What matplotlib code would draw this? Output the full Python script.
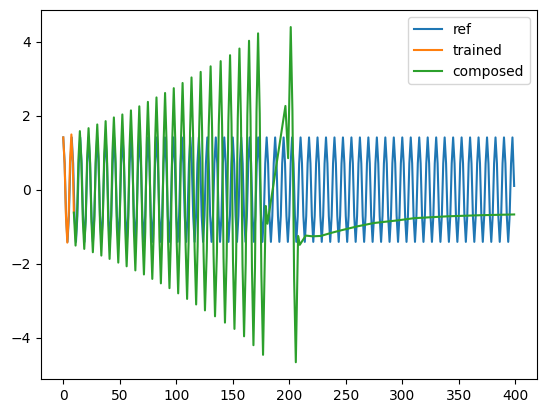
import matplotlib
matplotlib.use("Agg")
import matplotlib.pyplot as plt

# ---- data (points along each curve) ----
ref_x = [0, 1.25, 2.5, 3.75, 5, 6.25, 7.5, 8.75, 10, 11.25, 12.5, 13.75, 15, 16.25, 17.5, 18.75,
         20, 21.25, 22.5, 23.75, 25, 26.25, 27.5, 28.75, 30, 31.25, 32.5, 33.75, 35, 36.25, 37.5, 38.75,
         40, 41.25, 42.5, 43.75, 45, 46.25, 47.5, 48.75, 50, 51.25, 52.5, 53.75, 55, 56.25, 57.5, 58.75,
         60, 61.25, 62.5, 63.75, 65, 66.25, 67.5, 68.75, 70, 71.25, 72.5, 73.75, 75, 76.25, 77.5, 78.75,
         80, 81.25, 82.5, 83.75, 85, 86.25, 87.5, 88.75, 90, 91.25, 92.5, 93.75, 95, 96.25, 97.5, 98.75,
         100, 101.25, 102.5, 103.75, 105, 106.25, 107.5, 108.75, 110, 111.25, 112.5, 113.75, 115, 116.25, 117.5, 118.75,
         120, 121.25, 122.5, 123.75, 125, 126.25, 127.5, 128.75, 130, 131.25, 132.5, 133.75, 135, 136.25, 137.5, 138.75,
         140, 141.25, 142.5, 143.75, 145, 146.25, 147.5, 148.75, 150, 151.25, 152.5, 153.75, 155, 156.25, 157.5, 158.75,
         160, 161.25, 162.5, 163.75, 165, 166.25, 167.5, 168.75, 170, 171.25, 172.5, 173.75, 175, 176.25, 177.5, 178.75,
         180, 181.25, 182.5, 183.75, 185, 186.25, 187.5, 188.75, 190, 191.25, 192.5, 193.75, 195, 196.25, 197.5, 198.75,
         200, 201.25, 202.5, 203.75, 205, 206.25, 207.5, 208.75, 210, 211.25, 212.5, 213.75, 215, 216.25, 217.5, 218.75,
         220, 221.25, 222.5, 223.75, 225, 226.25, 227.5, 228.75, 230, 231.25, 232.5, 233.75, 235, 236.25, 237.5, 238.75,
         240, 241.25, 242.5, 243.75, 245, 246.25, 247.5, 248.75, 250, 251.25, 252.5, 253.75, 255, 256.25, 257.5, 258.75,
         260, 261.25, 262.5, 263.75, 265, 266.25, 267.5, 268.75, 270, 271.25, 272.5, 273.75, 275, 276.25, 277.5, 278.75,
         280, 281.25, 282.5, 283.75, 285, 286.25, 287.5, 288.75, 290, 291.25, 292.5, 293.75, 295, 296.25, 297.5, 298.75,
         300, 301.25, 302.5, 303.75, 305, 306.25, 307.5, 308.75, 310, 311.25, 312.5, 313.75, 315, 316.25, 317.5, 318.75,
         320, 321.25, 322.5, 323.75, 325, 326.25, 327.5, 328.75, 330, 331.25, 332.5, 333.75, 335, 336.25, 337.5, 338.75,
         340, 341.25, 342.5, 343.75, 345, 346.25, 347.5, 348.75, 350, 351.25, 352.5, 353.75, 355, 356.25, 357.5, 358.75,
         360, 361.25, 362.5, 363.75, 365, 366.25, 367.5, 368.75, 370, 371.25, 372.5, 373.75, 375, 376.25, 377.5, 378.75,
         380, 381.25, 382.5, 383.75, 385, 386.25, 387.5, 388.75, 390, 391.25, 392.5, 393.75, 395, 396.25, 397.5,
         399]
ref_y = [1.41, 0.71, -0.71, -1.41, -0.71, 0.71,
         1.41, 0.71, -0.71, -1.41, -0.71, 0.71,
         1.41, 0.71, -0.71, -1.41, -0.71, 0.71,
         1.41, 0.71, -0.71, -1.41, -0.71, 0.71,
         1.41, 0.71, -0.71, -1.41, -0.71, 0.71,
         1.41, 0.71, -0.71, -1.41, -0.71, 0.71,
         1.41, 0.71, -0.71, -1.41, -0.71, 0.71,
         1.41, 0.71, -0.71, -1.41, -0.71, 0.71,
         1.41, 0.71, -0.71, -1.41, -0.71, 0.71,
         1.41, 0.71, -0.71, -1.41, -0.71, 0.71,
         1.41, 0.71, -0.71, -1.41, -0.71, 0.71,
         1.41, 0.71, -0.71, -1.41, -0.71, 0.71,
         1.41, 0.71, -0.71, -1.41, -0.71, 0.71,
         1.41, 0.71, -0.71, -1.41, -0.71, 0.71,
         1.41, 0.71, -0.71, -1.41, -0.71, 0.71,
         1.41, 0.71, -0.71, -1.41, -0.71, 0.71,
         1.41, 0.71, -0.71, -1.41, -0.71, 0.71,
         1.41, 0.71, -0.71, -1.41, -0.71, 0.71,
         1.41, 0.71, -0.71, -1.41, -0.71, 0.71,
         1.41, 0.71, -0.71, -1.41, -0.71, 0.71,
         1.41, 0.71, -0.71, -1.41, -0.71, 0.71,
         1.41, 0.71, -0.71, -1.41, -0.71, 0.71,
         1.41, 0.71, -0.71, -1.41, -0.71, 0.71,
         1.41, 0.71, -0.71, -1.41, -0.71, 0.71,
         1.41, 0.71, -0.71, -1.41, -0.71, 0.71,
         1.41, 0.71, -0.71, -1.41, -0.71, 0.71,
         1.41, 0.71, -0.71, -1.41, -0.71, 0.71,
         1.41, 0.71, -0.71, -1.41, -0.71, 0.71,
         1.41, 0.71, -0.71, -1.41, -0.71, 0.71,
         1.41, 0.71, -0.71, -1.41, -0.71, 0.71,
         1.41, 0.71, -0.71, -1.41, -0.71, 0.71,
         1.41, 0.71, -0.71, -1.41, -0.71, 0.71,
         1.41, 0.71, -0.71, -1.41, -0.71, 0.71,
         1.41, 0.71, -0.71, -1.41, -0.71, 0.71,
         1.41, 0.71, -0.71, -1.41, -0.71, 0.71,
         1.41, 0.71, -0.71, -1.41, -0.71, 0.71,
         1.41, 0.71, -0.71, -1.41, -0.71, 0.71,
         1.41, 0.71, -0.71, -1.41, -0.71, 0.71,
         1.41, 0.71, -0.71, -1.41, -0.71, 0.71,
         1.41, 0.71, -0.71, -1.41, -0.71, 0.71,
         1.41, 0.71, -0.71, -1.41, -0.71, 0.71,
         1.41, 0.71, -0.71, -1.41, -0.71, 0.71,
         1.41, 0.71, -0.71, -1.41, -0.71, 0.71,
         1.41, 0.71, -0.71, -1.41, -0.71, 0.71,
         1.41, 0.71, -0.71, -1.41, -0.71, 0.71,
         1.41, 0.71, -0.71, -1.41, -0.71, 0.71,
         1.41, 0.71, -0.71, -1.41, -0.71, 0.71,
         1.41, 0.71, -0.71, -1.41, -0.71, 0.71,
         1.41, 0.71, -0.71, -1.41, -0.71, 0.71,
         1.41, 0.71, -0.71, -1.41, -0.71, 0.71,
         1.41, 0.71, -0.71, -1.41, -0.71, 0.71,
         1.41, 0.71, -0.71, -1.41, -0.71, 0.71,
         1.41, 0.71, -0.71, -1.41, -0.71, 0.71,
         1.41,
         0.10]

trained_x = [0, 1.2, 2.4, 3.6, 4.8, 6.0, 7.2, 8.4, 9.4]
trained_y = [1.41, 0.70, -0.72, -1.43, -0.70, 0.76, 1.49, 0.74, -0.62]

composed_x = [9.4, 10.9, 12.17, 13.43, 14.7, 16.0, 17.3, 18.6, 19.87, 21.13,
              22.4, 23.67, 24.93, 26.2, 27.5, 28.8, 30.1, 31.3, 32.5, 33.7,
              34.97, 36.23, 37.5, 38.67, 39.83, 41.0, 42.27, 43.53, 44.8, 46.1,
              47.4, 48.7, 49.9, 51.1, 52.3, 53.57, 54.83, 56.1, 57.37, 58.63,
              59.9, 61.2, 62.5, 63.8, 64.97, 66.13, 67.3, 68.67, 70.03, 71.4,
              72.57, 73.73, 74.9, 76.2, 77.5, 78.8, 80.03, 81.27, 82.5, 83.8,
              85.1, 86.4, 87.63, 88.87, 90.1, 91.4, 92.7, 94.0, 95.27, 96.53,
              97.8, 99.1, 100.4, 101.7, 103.0, 104.3, 105.6, 106.93, 108.27, 109.6,
              110.9, 112.2, 113.5, 114.87, 116.23, 117.6, 118.93, 120.27, 121.6, 122.87,
              124.13, 125.4, 127.07, 128.73, 130.4, 131.7, 133.0, 134.3, 135.97, 137.63,
              139.3, 140.57, 141.83, 143.1, 144.6, 146.1, 147.6, 148.9, 150.2, 151.5,
              152.97, 154.43, 155.9, 157.27, 158.63, 160.0, 161.47, 162.93, 164.4, 165.7,
              167.0, 168.3, 169.67, 171.03, 172.4, 173.87, 175.33, 176.8, 179.2, 180.7,
              196.6, 199.0, 201.3, 202.8, 204.3, 205.8, 207.8, 209.3, 214.6, 220.5,
              227.9, 236.8, 245.6, 260.4, 275.1, 295.8, 310.5, 340.0, 369.6, 399.0]
composed_y = [-0.62, -1.51, -0.74, 0.81, 1.58, 0.79, -0.81, -1.60, -0.79, 0.85,
              1.66, 0.82, -0.85, -1.69, -0.83, 0.90, 1.76, 0.88, -0.90, -1.78,
              -0.87, 0.94, 1.85, 0.92, -0.94, -1.87, -0.92, 1.00, 1.95, 0.97,
              -0.99, -1.97, -0.97, 1.03, 2.03, 1.00, -1.05, -2.07, -1.02, 1.09,
              2.14, 1.06, -1.10, -2.18, -1.07, 1.14, 2.25, 1.12, -1.16, -2.29,
              -1.13, 1.21, 2.37, 1.18, -1.22, -2.41, -1.19, 1.27, 2.49, 1.24,
              -1.28, -2.53, -1.25, 1.33, 2.61, 1.29, -1.34, -2.66, -1.31, 1.39,
              2.74, 1.36, -1.42, -2.80, -1.38, 1.46, 2.88, 1.42, -1.49, -2.95,
              -1.46, 1.54, 3.03, 1.50, -1.57, -3.10, -1.53, 1.61, 3.18, 1.57,
              -1.65, -3.26, -1.61, 1.68, 3.33, 1.64, -1.73, -3.42, -1.70, 1.75,
              3.47, 1.71, -1.83, -3.59, -1.79, 1.83, 3.63, 1.78, -1.91, -3.76,
              -1.87, 1.92, 3.81, 1.87, -2.02, -3.96, -1.97, 2.03, 4.02, 1.97,
              -2.15, -4.20, -2.10, 2.12, 4.22, 2.05, -2.29, -4.46, -0.44, -0.92,
              2.26, 0.85, 4.39, 2.13, -2.40, -4.66, -1.25, -1.49, -1.24, -1.26,
              -1.25, -1.17, -1.10, -0.99, -0.90, -0.83, -0.77, -0.72, -0.69, -0.67]

fig = plt.figure(figsize=(5.46, 4.13), dpi=100)
ax = fig.add_axes([40.7 / 546, 34 / 413, 496 / 546, 368.7 / 413])
ax.plot(ref_x, ref_y, label="ref")
ax.plot(trained_x, trained_y, label="trained")
ax.plot(composed_x, composed_y, label="composed")
ax.legend(loc="upper right")
fig.savefig("out.png", dpi=100)
